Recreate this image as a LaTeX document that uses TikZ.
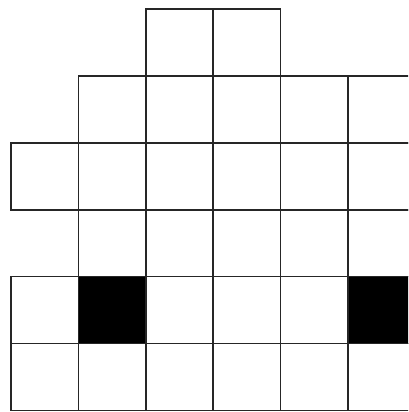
\documentclass[tikz,border=0pt]{standalone}
\begin{document}
\begin{tikzpicture}[x=1pt,y=-1pt,
  cell/.style={draw=black!85, line width=1.6pt},
  blk/.style={cell, fill=black}]
\useasboundingbox (0,0) rectangle (408,412);
\clip (0,0) rectangle (408,412);
\foreach \r/\a/\b in {1/3/4,2/2/6,3/1/6,4/2/6,5/1/6,6/1/6}{
  \foreach \c in {\a,...,\b}{
    \draw[cell] ({11+67.4*(\c-1)},{9+66.9*(\r-1)}) rectangle ++(67.4,66.9);
  }
}
\foreach \c in {2,6}{
  \draw[blk] ({11+67.4*(\c-1)},{9+66.9*4}) rectangle ++(67.4,66.9);
}
\end{tikzpicture}
\end{document}
